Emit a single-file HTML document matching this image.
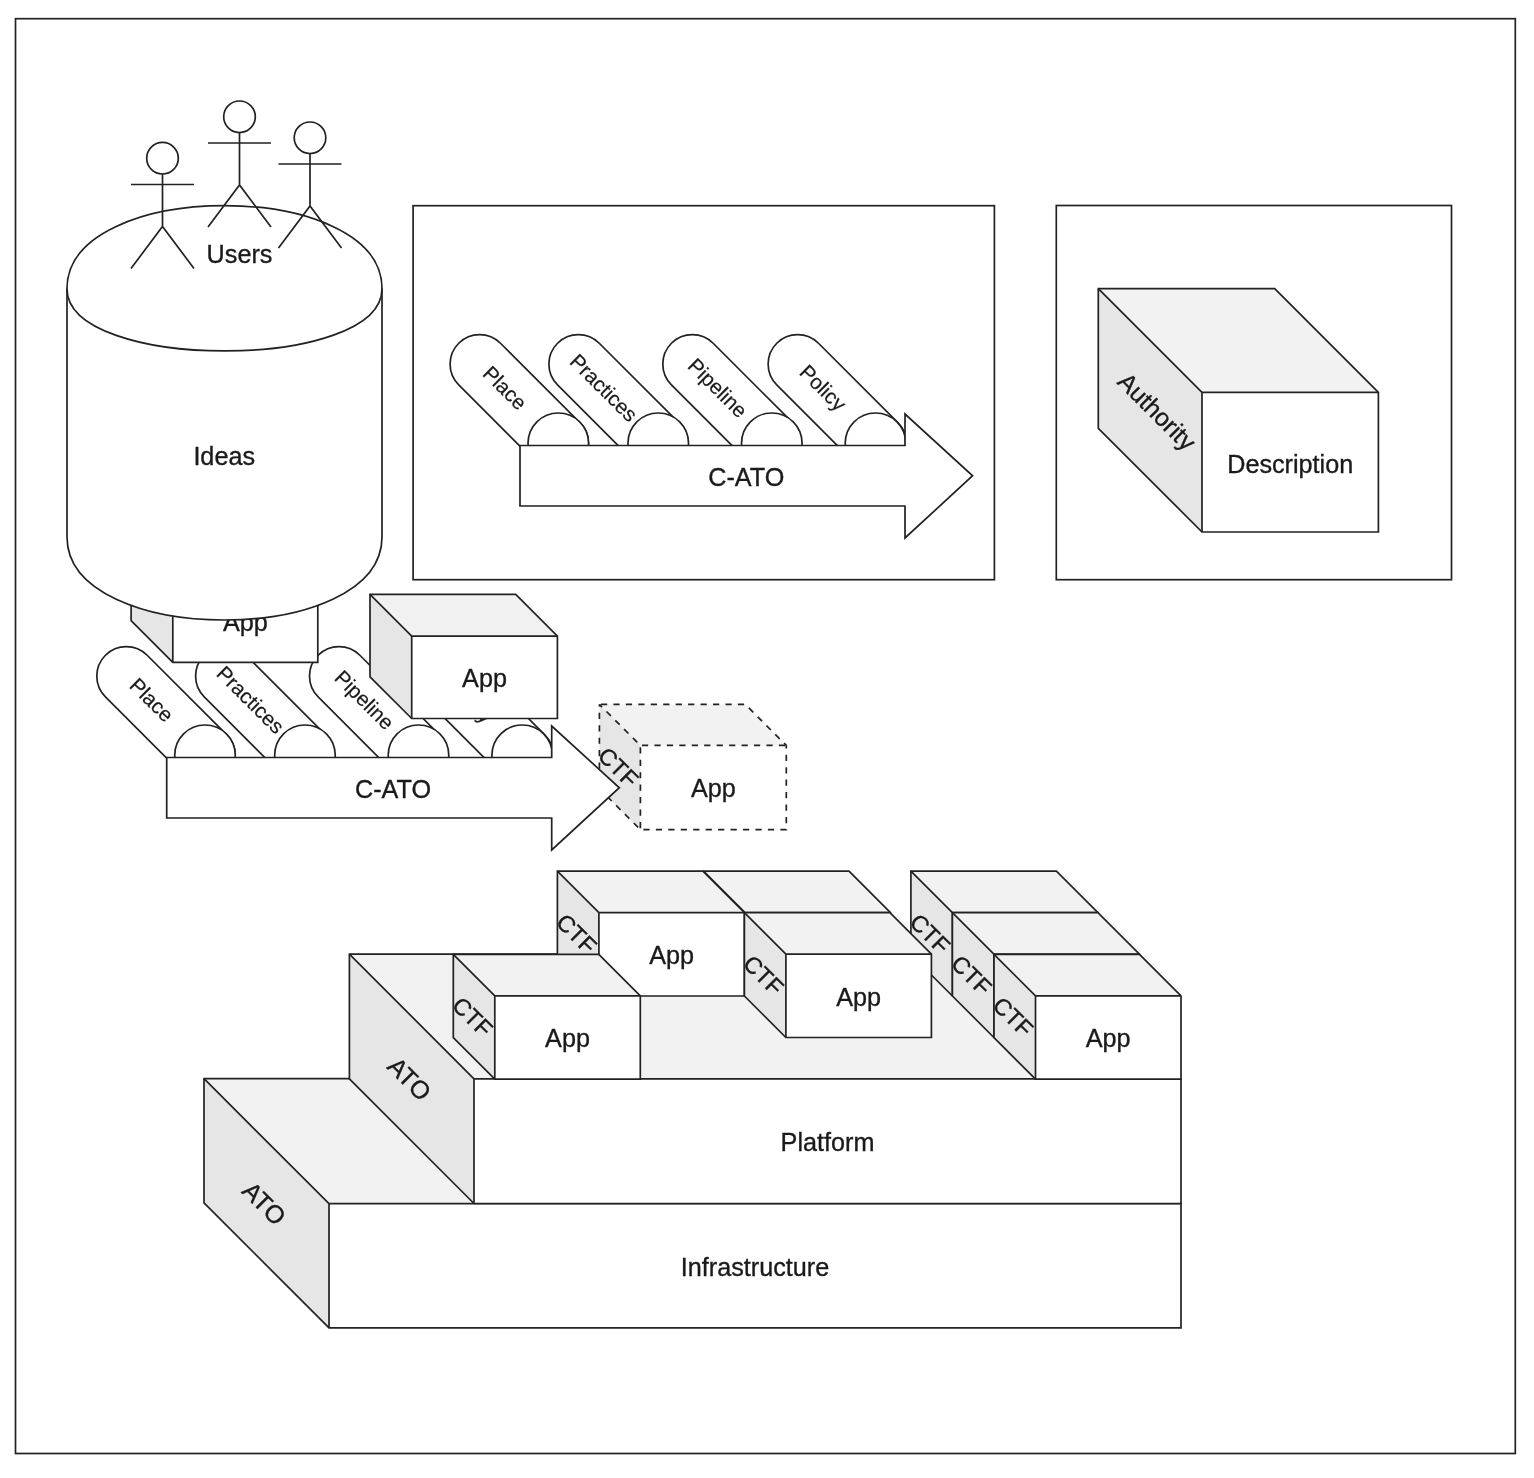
<!DOCTYPE html><html><head><meta charset="utf-8"><style>html,body{margin:0;padding:0;background:#fff;}svg{display:block;filter:blur(0.45px);}</style></head><body><svg width="1534" height="1478" viewBox="0 0 1534 1478" font-family="Liberation Sans, sans-serif">
<rect width="1534" height="1478" fill="#fff"/>
<rect x="15.5" y="18.7" width="1499.8" height="1434.8" fill="none" stroke="#222" stroke-width="1.7" />
<rect x="413.1" y="205.7" width="581.3" height="374.0" fill="none" stroke="#222" stroke-width="1.7" />
<rect x="1056.3" y="205.5" width="395.2" height="374.2" fill="none" stroke="#222" stroke-width="1.7" />
<path d="M538.14,464.36 L458.74,384.96 A29.5,29.5 0 0 1 500.46,343.24 L579.86,422.64 A29.5,29.5 0 0 1 538.14,464.36 Z" fill="#fff" stroke="#222" stroke-width="1.7"/>
<circle cx="558.30" cy="443.30" r="30.3" fill="#fff" stroke="#222" stroke-width="1.7"/>
<text x="505.2" y="395.2" transform="rotate(45 505.2 387.7)" font-size="20.75" text-anchor="middle" fill="#1a1a1a" stroke="#1a1a1a" stroke-width="0.2">Place</text>
<path d="M636.94,464.36 L557.54,384.96 A29.5,29.5 0 0 1 599.26,343.24 L678.66,422.64 A29.5,29.5 0 0 1 636.94,464.36 Z" fill="#fff" stroke="#222" stroke-width="1.7"/>
<circle cx="658.25" cy="443.30" r="30.3" fill="#fff" stroke="#222" stroke-width="1.7"/>
<text x="604.0" y="395.2" transform="rotate(45 604.0 387.7)" font-size="20.75" text-anchor="middle" fill="#1a1a1a" stroke="#1a1a1a" stroke-width="0.2">Practices</text>
<path d="M750.84,464.36 L671.44,384.96 A29.5,29.5 0 0 1 713.16,343.24 L792.56,422.64 A29.5,29.5 0 0 1 750.84,464.36 Z" fill="#fff" stroke="#222" stroke-width="1.7"/>
<circle cx="771.80" cy="443.30" r="30.3" fill="#fff" stroke="#222" stroke-width="1.7"/>
<text x="717.9" y="395.2" transform="rotate(45 717.9 387.7)" font-size="20.75" text-anchor="middle" fill="#1a1a1a" stroke="#1a1a1a" stroke-width="0.2">Pipeline</text>
<path d="M856.14,464.36 L776.74,384.96 A29.5,29.5 0 0 1 818.46,343.24 L897.86,422.64 A29.5,29.5 0 0 1 856.14,464.36 Z" fill="#fff" stroke="#222" stroke-width="1.7"/>
<circle cx="875.50" cy="443.30" r="30.3" fill="#fff" stroke="#222" stroke-width="1.7"/>
<text x="823.2" y="395.2" transform="rotate(45 823.2 387.7)" font-size="20.75" text-anchor="middle" fill="#1a1a1a" stroke="#1a1a1a" stroke-width="0.2">Policy</text>
<path d="M520,445.5 L905,445.5 L905,414 L972.6,475.75 L905,538 L905,506 L520,506 Z" fill="#fff" stroke="#222" stroke-width="1.7" stroke-linejoin="miter"/>
<text x="746.3" y="485.5" font-size="25.2" text-anchor="middle" fill="#1a1a1a" stroke="#1a1a1a" stroke-width="0.35">C-ATO</text>
<path d="M1098.3,288.7 L1274.7,288.7 L1378.4,392.4 L1378.4,532.0 L1202.0,532.0 L1098.3,428.3 Z" fill="#fff" stroke="none"/>
<path d="M1098.3,288.7 L1274.7,288.7 L1378.4,392.4 L1202.0,392.4 Z" fill="#f2f2f2"/>
<path d="M1098.3,288.7 L1202.0,392.4 L1202.0,532.0 L1098.3,428.3 Z" fill="#e6e6e6"/>
<path d="M1098.3,288.7 L1274.7,288.7 L1378.4,392.4 L1378.4,532.0 L1202.0,532.0 L1098.3,428.3 Z" fill="none" stroke="#222" stroke-width="1.7" stroke-linejoin="miter" />
<path d="M1202.0,532.0 L1202.0,392.4 L1098.3,288.7 M1202.0,392.4 L1378.4,392.4" fill="none" stroke="#222" stroke-width="1.7" />
<text x="1290.2" y="472.9" font-size="25.2" text-anchor="middle" fill="#1a1a1a" stroke="#1a1a1a" stroke-width="0.35">Description</text>
<text x="1157.1" y="420.2" transform="rotate(45 1157.1 411.4)" font-size="24.8" text-anchor="middle" fill="#1a1a1a" stroke="#1a1a1a" stroke-width="0.35">Authority</text>
<path d="M184.84,776.36 L105.44,696.96 A29.5,29.5 0 0 1 147.16,655.24 L226.56,734.64 A29.5,29.5 0 0 1 184.84,776.36 Z" fill="#fff" stroke="#222" stroke-width="1.7"/>
<circle cx="205.00" cy="755.30" r="30.3" fill="#fff" stroke="#222" stroke-width="1.7"/>
<text x="151.9" y="707.2" transform="rotate(45 151.9 699.7)" font-size="20.75" text-anchor="middle" fill="#1a1a1a" stroke="#1a1a1a" stroke-width="0.2">Place</text>
<path d="M283.64,776.36 L204.24,696.96 A29.5,29.5 0 0 1 245.96,655.24 L325.36,734.64 A29.5,29.5 0 0 1 283.64,776.36 Z" fill="#fff" stroke="#222" stroke-width="1.7"/>
<circle cx="304.95" cy="755.30" r="30.3" fill="#fff" stroke="#222" stroke-width="1.7"/>
<text x="250.7" y="707.2" transform="rotate(45 250.7 699.7)" font-size="20.75" text-anchor="middle" fill="#1a1a1a" stroke="#1a1a1a" stroke-width="0.2">Practices</text>
<path d="M397.54,776.36 L318.14,696.96 A29.5,29.5 0 0 1 359.86,655.24 L439.26,734.64 A29.5,29.5 0 0 1 397.54,776.36 Z" fill="#fff" stroke="#222" stroke-width="1.7"/>
<circle cx="418.50" cy="755.30" r="30.3" fill="#fff" stroke="#222" stroke-width="1.7"/>
<text x="364.6" y="707.2" transform="rotate(45 364.6 699.7)" font-size="20.75" text-anchor="middle" fill="#1a1a1a" stroke="#1a1a1a" stroke-width="0.2">Pipeline</text>
<path d="M502.84,776.36 L423.44,696.96 A29.5,29.5 0 0 1 465.16,655.24 L544.56,734.64 A29.5,29.5 0 0 1 502.84,776.36 Z" fill="#fff" stroke="#222" stroke-width="1.7"/>
<circle cx="522.20" cy="755.30" r="30.3" fill="#fff" stroke="#222" stroke-width="1.7"/>
<text x="469.9" y="707.2" transform="rotate(45 469.9 699.7)" font-size="20.75" text-anchor="middle" fill="#1a1a1a" stroke="#1a1a1a" stroke-width="0.2">Policy</text>
<path d="M599.4,704.4 L745.3,704.4 L786.3,745.4 L786.3,829.7 L640.4,829.7 L599.4,788.7 Z" fill="#fff" stroke="none"/>
<path d="M599.4,704.4 L745.3,704.4 L786.3,745.4 L640.4,745.4 Z" fill="#f2f2f2"/>
<path d="M599.4,704.4 L640.4,745.4 L640.4,829.7 L599.4,788.7 Z" fill="#e6e6e6"/>
<path d="M599.4,704.4 L745.3,704.4 L786.3,745.4 L786.3,829.7 L640.4,829.7 L599.4,788.7 Z" fill="none" stroke="#222" stroke-width="1.7" stroke-linejoin="miter" stroke-dasharray="6.225 6.225" stroke-dashoffset="10.9"/>
<path d="M640.4,829.7 L640.4,745.4 L599.4,704.4 M640.4,745.4 L786.3,745.4" fill="none" stroke="#222" stroke-width="1.7" stroke-dasharray="6.225 6.225" stroke-dashoffset="10.9"/>
<text x="713.4" y="797.3" font-size="25.2" text-anchor="middle" fill="#1a1a1a" stroke="#1a1a1a" stroke-width="0.35">App</text>
<clipPath id="c44"><rect x="599.4" y="704.4" width="41.0" height="125.3"/></clipPath>
<g clip-path="url(#c44)">
<text x="618.4" y="775.4" transform="rotate(45 618.4 767.0)" font-size="23.3" text-anchor="middle" fill="#1a1a1a" stroke="#1a1a1a" stroke-width="0.35">CTF</text>
</g>
<path d="M166.7,757.5 L551.7,757.5 L551.7,726.0 L619.3,787.75 L551.7,850.0 L551.7,818.0 L166.7,818.0 Z" fill="#fff" stroke="#222" stroke-width="1.7" stroke-linejoin="miter"/>
<text x="393.0" y="797.5" font-size="25.2" text-anchor="middle" fill="#1a1a1a" stroke="#1a1a1a" stroke-width="0.35">C-ATO</text>
<path d="M370.0,594.4 L515.7,594.4 L557.4,636.1 L557.4,718.5 L411.7,718.5 L370.0,676.8 Z" fill="#fff" stroke="none"/>
<path d="M370.0,594.4 L515.7,594.4 L557.4,636.1 L411.7,636.1 Z" fill="#f2f2f2"/>
<path d="M370.0,594.4 L411.7,636.1 L411.7,718.5 L370.0,676.8 Z" fill="#e6e6e6"/>
<path d="M370.0,594.4 L515.7,594.4 L557.4,636.1 L557.4,718.5 L411.7,718.5 L370.0,676.8 Z" fill="none" stroke="#222" stroke-width="1.7" stroke-linejoin="miter" />
<path d="M411.7,718.5 L411.7,636.1 L370.0,594.4 M411.7,636.1 L557.4,636.1" fill="none" stroke="#222" stroke-width="1.7" />
<text x="484.5" y="687.0" font-size="25.2" text-anchor="middle" fill="#1a1a1a" stroke="#1a1a1a" stroke-width="0.35">App</text>
<path d="M131.1,538.3 L276.1,538.3 L317.8,580.0 L317.8,662.4 L172.8,662.4 L131.1,620.7 Z" fill="#fff" stroke="none"/>
<path d="M131.1,538.3 L276.1,538.3 L317.8,580.0 L172.8,580.0 Z" fill="#f2f2f2"/>
<path d="M131.1,538.3 L172.8,580.0 L172.8,662.4 L131.1,620.7 Z" fill="#e6e6e6"/>
<path d="M131.1,538.3 L276.1,538.3 L317.8,580.0 L317.8,662.4 L172.8,662.4 L131.1,620.7 Z" fill="none" stroke="#222" stroke-width="1.7" stroke-linejoin="miter" />
<path d="M172.8,662.4 L172.8,580.0 L131.1,538.3 M172.8,580.0 L317.8,580.0" fill="none" stroke="#222" stroke-width="1.7" />
<text x="245.3" y="630.9" font-size="25.2" text-anchor="middle" fill="#1a1a1a" stroke="#1a1a1a" stroke-width="0.35">App</text>
<path d="M67,288.7 C67,178.03333333333333 382,178.03333333333333 382,288.7 L382,537.0 C382,647.6666666666666 67,647.6666666666666 67,537.0 Z" fill="#fff" stroke="#222" stroke-width="1.7"/>
<path d="M67,288.7 C67,371.7 382,371.7 382,288.7" fill="none" stroke="#222" stroke-width="1.7"/>
<text x="224.2" y="464.7" font-size="25.2" text-anchor="middle" fill="#1a1a1a" stroke="#1a1a1a" stroke-width="0.35">Ideas</text>
<circle cx="162.5" cy="158.2" r="15.8" fill="#fff" stroke="#222" stroke-width="1.7"/>
<path d="M162.5,174.0 L162.5,226.5 M131.0,184.5 L194.0,184.5 M131.0,268.5 L162.5,226.5 L194.0,268.5" fill="none" stroke="#222" stroke-width="1.7"/>
<circle cx="239.5" cy="116.8" r="15.8" fill="#fff" stroke="#222" stroke-width="1.7"/>
<path d="M239.5,132.5 L239.5,185.0 M208.0,143.0 L271.0,143.0 M208.0,227.0 L239.5,185.0 L271.0,227.0" fill="none" stroke="#222" stroke-width="1.7"/>
<circle cx="310.0" cy="137.8" r="15.8" fill="#fff" stroke="#222" stroke-width="1.7"/>
<path d="M310.0,153.5 L310.0,206.0 M278.5,164.0 L341.5,164.0 M278.5,248.0 L310.0,206.0 L341.5,248.0" fill="none" stroke="#222" stroke-width="1.7"/>
<text x="239.5" y="262.7" font-size="25.2" text-anchor="middle" fill="#1a1a1a" stroke="#1a1a1a" stroke-width="0.35">Users</text>
<path d="M204.0,1078.7 L1056.0,1078.7 L1181.0,1203.7 L1181.0,1327.9 L329.0,1327.9 L204.0,1202.9 Z" fill="#fff" stroke="none"/>
<path d="M204.0,1078.7 L1056.0,1078.7 L1181.0,1203.7 L329.0,1203.7 Z" fill="#f2f2f2"/>
<path d="M204.0,1078.7 L329.0,1203.7 L329.0,1327.9 L204.0,1202.9 Z" fill="#e6e6e6"/>
<path d="M204.0,1078.7 L1056.0,1078.7 L1181.0,1203.7 L1181.0,1327.9 L329.0,1327.9 L204.0,1202.9 Z" fill="none" stroke="#222" stroke-width="1.7" stroke-linejoin="miter" />
<path d="M329.0,1327.9 L329.0,1203.7 L204.0,1078.7 M329.0,1203.7 L1181.0,1203.7" fill="none" stroke="#222" stroke-width="1.7" />
<text x="755.0" y="1275.5" font-size="25.2" text-anchor="middle" fill="#1a1a1a" stroke="#1a1a1a" stroke-width="0.35">Infrastructure</text>
<text x="264.5" y="1212.2" transform="rotate(45 264.5 1203.3)" font-size="25" text-anchor="middle" fill="#1a1a1a" stroke="#1a1a1a" stroke-width="0.35">ATO</text>
<path d="M349.4,954.2 L1056.4,954.2 L1181.0,1078.8 L1181.0,1203.5 L474.0,1203.5 L349.4,1078.9 Z" fill="#fff" stroke="none"/>
<path d="M349.4,954.2 L1056.4,954.2 L1181.0,1078.8 L474.0,1078.8 Z" fill="#f2f2f2"/>
<path d="M349.4,954.2 L474.0,1078.8 L474.0,1203.5 L349.4,1078.9 Z" fill="#e6e6e6"/>
<path d="M349.4,954.2 L1056.4,954.2 L1181.0,1078.8 L1181.0,1203.5 L474.0,1203.5 L349.4,1078.9 Z" fill="none" stroke="#222" stroke-width="1.7" stroke-linejoin="miter" />
<path d="M474.0,1203.5 L474.0,1078.8 L349.4,954.2 M474.0,1078.8 L1181.0,1078.8" fill="none" stroke="#222" stroke-width="1.7" />
<text x="827.5" y="1150.9" font-size="25.2" text-anchor="middle" fill="#1a1a1a" stroke="#1a1a1a" stroke-width="0.35">Platform</text>
<text x="409.7" y="1087.8" transform="rotate(45 409.7 1078.9)" font-size="25" text-anchor="middle" fill="#1a1a1a" stroke="#1a1a1a" stroke-width="0.35">ATO</text>
<path d="M703.5,871.2 L849.0,871.2 L890.5,912.7 L890.5,996.0 L745.0,996.0 L703.5,954.5 Z" fill="#fff" stroke="none"/>
<path d="M703.5,871.2 L849.0,871.2 L890.5,912.7 L745.0,912.7 Z" fill="#f2f2f2"/>
<path d="M703.5,871.2 L745.0,912.7 L745.0,996.0 L703.5,954.5 Z" fill="#e6e6e6"/>
<path d="M703.5,871.2 L849.0,871.2 L890.5,912.7 L890.5,996.0 L745.0,996.0 L703.5,954.5 Z" fill="none" stroke="#222" stroke-width="1.7" stroke-linejoin="miter" />
<path d="M745.0,996.0 L745.0,912.7 L703.5,871.2 M745.0,912.7 L890.5,912.7" fill="none" stroke="#222" stroke-width="1.7" />
<text x="817.8" y="964.1" font-size="25.2" text-anchor="middle" fill="#1a1a1a" stroke="#1a1a1a" stroke-width="0.35">App</text>
<clipPath id="c92"><rect x="703.5" y="871.2" width="41.5" height="124.8"/></clipPath>
<g clip-path="url(#c92)">
<text x="722.8" y="941.9" transform="rotate(45 722.8 933.6)" font-size="23.3" text-anchor="middle" fill="#1a1a1a" stroke="#1a1a1a" stroke-width="0.35">CTF</text>
</g>
<path d="M557.4,871.2 L702.9,871.2 L744.4,912.7 L744.4,996.0 L598.9,996.0 L557.4,954.5 Z" fill="#fff" stroke="none"/>
<path d="M557.4,871.2 L702.9,871.2 L744.4,912.7 L598.9,912.7 Z" fill="#f2f2f2"/>
<path d="M557.4,871.2 L598.9,912.7 L598.9,996.0 L557.4,954.5 Z" fill="#e6e6e6"/>
<path d="M557.4,871.2 L702.9,871.2 L744.4,912.7 L744.4,996.0 L598.9,996.0 L557.4,954.5 Z" fill="none" stroke="#222" stroke-width="1.7" stroke-linejoin="miter" />
<path d="M598.9,996.0 L598.9,912.7 L557.4,871.2 M598.9,912.7 L744.4,912.7" fill="none" stroke="#222" stroke-width="1.7" />
<text x="671.6" y="964.1" font-size="25.2" text-anchor="middle" fill="#1a1a1a" stroke="#1a1a1a" stroke-width="0.35">App</text>
<clipPath id="c102"><rect x="557.4" y="871.2" width="41.5" height="124.8"/></clipPath>
<g clip-path="url(#c102)">
<text x="576.6" y="941.9" transform="rotate(45 576.6 933.6)" font-size="23.3" text-anchor="middle" fill="#1a1a1a" stroke="#1a1a1a" stroke-width="0.35">CTF</text>
</g>
<path d="M453.3,954.4 L598.8,954.4 L640.3,995.9 L640.3,1079.2 L494.8,1079.2 L453.3,1037.7 Z" fill="#fff" stroke="none"/>
<path d="M453.3,954.4 L598.8,954.4 L640.3,995.9 L494.8,995.9 Z" fill="#f2f2f2"/>
<path d="M453.3,954.4 L494.8,995.9 L494.8,1079.2 L453.3,1037.7 Z" fill="#e6e6e6"/>
<path d="M453.3,954.4 L598.8,954.4 L640.3,995.9 L640.3,1079.2 L494.8,1079.2 L453.3,1037.7 Z" fill="none" stroke="#222" stroke-width="1.7" stroke-linejoin="miter" />
<path d="M494.8,1079.2 L494.8,995.9 L453.3,954.4 M494.8,995.9 L640.3,995.9" fill="none" stroke="#222" stroke-width="1.7" />
<text x="567.5" y="1047.3" font-size="25.2" text-anchor="middle" fill="#1a1a1a" stroke="#1a1a1a" stroke-width="0.35">App</text>
<clipPath id="c112"><rect x="453.3" y="954.4" width="41.5" height="124.8"/></clipPath>
<g clip-path="url(#c112)">
<text x="472.6" y="1025.1" transform="rotate(45 472.6 1016.8)" font-size="23.3" text-anchor="middle" fill="#1a1a1a" stroke="#1a1a1a" stroke-width="0.35">CTF</text>
</g>
<path d="M910.9,871.2 L1056.4,871.2 L1097.9,912.7 L1097.9,996.0 L952.4,996.0 L910.9,954.5 Z" fill="#fff" stroke="none"/>
<path d="M910.9,871.2 L1056.4,871.2 L1097.9,912.7 L952.4,912.7 Z" fill="#f2f2f2"/>
<path d="M910.9,871.2 L952.4,912.7 L952.4,996.0 L910.9,954.5 Z" fill="#e6e6e6"/>
<path d="M910.9,871.2 L1056.4,871.2 L1097.9,912.7 L1097.9,996.0 L952.4,996.0 L910.9,954.5 Z" fill="none" stroke="#222" stroke-width="1.7" stroke-linejoin="miter" />
<path d="M952.4,996.0 L952.4,912.7 L910.9,871.2 M952.4,912.7 L1097.9,912.7" fill="none" stroke="#222" stroke-width="1.7" />
<text x="1025.2" y="964.1" font-size="25.2" text-anchor="middle" fill="#1a1a1a" stroke="#1a1a1a" stroke-width="0.35">App</text>
<clipPath id="c122"><rect x="910.9" y="871.2" width="41.5" height="124.8"/></clipPath>
<g clip-path="url(#c122)">
<text x="930.1" y="941.9" transform="rotate(45 930.1 933.6)" font-size="23.3" text-anchor="middle" fill="#1a1a1a" stroke="#1a1a1a" stroke-width="0.35">CTF</text>
</g>
<path d="M744.4,912.7 L889.9,912.7 L931.4,954.2 L931.4,1037.5 L785.9,1037.5 L744.4,996.0 Z" fill="#fff" stroke="none"/>
<path d="M744.4,912.7 L889.9,912.7 L931.4,954.2 L785.9,954.2 Z" fill="#f2f2f2"/>
<path d="M744.4,912.7 L785.9,954.2 L785.9,1037.5 L744.4,996.0 Z" fill="#e6e6e6"/>
<path d="M744.4,912.7 L889.9,912.7 L931.4,954.2 L931.4,1037.5 L785.9,1037.5 L744.4,996.0 Z" fill="none" stroke="#222" stroke-width="1.7" stroke-linejoin="miter" />
<path d="M785.9,1037.5 L785.9,954.2 L744.4,912.7 M785.9,954.2 L931.4,954.2" fill="none" stroke="#222" stroke-width="1.7" />
<text x="858.6" y="1005.6" font-size="25.2" text-anchor="middle" fill="#1a1a1a" stroke="#1a1a1a" stroke-width="0.35">App</text>
<clipPath id="c132"><rect x="744.4" y="912.7" width="41.5" height="124.8"/></clipPath>
<g clip-path="url(#c132)">
<text x="763.6" y="983.4" transform="rotate(45 763.6 975.1)" font-size="23.3" text-anchor="middle" fill="#1a1a1a" stroke="#1a1a1a" stroke-width="0.35">CTF</text>
</g>
<path d="M952.4,912.7 L1097.9,912.7 L1139.4,954.2 L1139.4,1037.5 L993.9,1037.5 L952.4,996.0 Z" fill="#fff" stroke="none"/>
<path d="M952.4,912.7 L1097.9,912.7 L1139.4,954.2 L993.9,954.2 Z" fill="#f2f2f2"/>
<path d="M952.4,912.7 L993.9,954.2 L993.9,1037.5 L952.4,996.0 Z" fill="#e6e6e6"/>
<path d="M952.4,912.7 L1097.9,912.7 L1139.4,954.2 L1139.4,1037.5 L993.9,1037.5 L952.4,996.0 Z" fill="none" stroke="#222" stroke-width="1.7" stroke-linejoin="miter" />
<path d="M993.9,1037.5 L993.9,954.2 L952.4,912.7 M993.9,954.2 L1139.4,954.2" fill="none" stroke="#222" stroke-width="1.7" />
<text x="1066.7" y="1005.6" font-size="25.2" text-anchor="middle" fill="#1a1a1a" stroke="#1a1a1a" stroke-width="0.35">App</text>
<clipPath id="c142"><rect x="952.4" y="912.7" width="41.5" height="124.8"/></clipPath>
<g clip-path="url(#c142)">
<text x="971.6" y="983.4" transform="rotate(45 971.6 975.1)" font-size="23.3" text-anchor="middle" fill="#1a1a1a" stroke="#1a1a1a" stroke-width="0.35">CTF</text>
</g>
<path d="M994.0,954.4 L1139.5,954.4 L1181.0,995.9 L1181.0,1079.2 L1035.5,1079.2 L994.0,1037.7 Z" fill="#fff" stroke="none"/>
<path d="M994.0,954.4 L1139.5,954.4 L1181.0,995.9 L1035.5,995.9 Z" fill="#f2f2f2"/>
<path d="M994.0,954.4 L1035.5,995.9 L1035.5,1079.2 L994.0,1037.7 Z" fill="#e6e6e6"/>
<path d="M994.0,954.4 L1139.5,954.4 L1181.0,995.9 L1181.0,1079.2 L1035.5,1079.2 L994.0,1037.7 Z" fill="none" stroke="#222" stroke-width="1.7" stroke-linejoin="miter" />
<path d="M1035.5,1079.2 L1035.5,995.9 L994.0,954.4 M1035.5,995.9 L1181.0,995.9" fill="none" stroke="#222" stroke-width="1.7" />
<text x="1108.2" y="1047.3" font-size="25.2" text-anchor="middle" fill="#1a1a1a" stroke="#1a1a1a" stroke-width="0.35">App</text>
<clipPath id="c152"><rect x="994.0" y="954.4" width="41.5" height="124.8"/></clipPath>
<g clip-path="url(#c152)">
<text x="1013.2" y="1025.1" transform="rotate(45 1013.2 1016.8)" font-size="23.3" text-anchor="middle" fill="#1a1a1a" stroke="#1a1a1a" stroke-width="0.35">CTF</text>
</g>
</svg></body></html>
